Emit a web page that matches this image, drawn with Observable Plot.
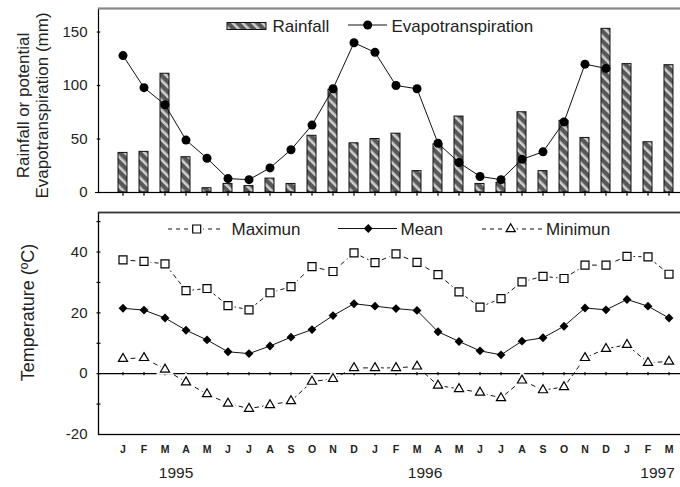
<!DOCTYPE html>
<html><head><meta charset="utf-8">
<script src="https://cdn.jsdelivr.net/npm/d3@7"></script>
<script src="https://cdn.jsdelivr.net/npm/@observablehq/plot@0.6"></script>
<style>
html,body{margin:0;background:#fff;overflow:hidden;}
#chart{position:relative;width:680px;height:487px;overflow:hidden;font-family:"Liberation Sans",Arial,sans-serif;}
#chart svg{position:absolute;left:0;overflow:visible;}
</style></head><body><div id="chart"></div>
<script>
// ---- data ----
const monthLetters = ["J","F","M","A","M","J","J","A","S","O","N","D",
                      "J","F","M","A","M","J","J","A","S","O","N","D",
                      "J","F","M"];
const rainfall = [37,38,111,33,4,8,6,13,8,53,96,46,
                  50,55,20,45,71,8,9,75,20,67,51,153,
                  120,47,119];
const evapo = [128,98,82,49,32,13,12,23,40,63,97,140,
               131,100,97,46,28,15,12,31,38,66,120,116,
               null,null,null];
const tMax = [37.4,36.9,36.1,27.3,28,22.4,21,26.6,28.6,35.2,33.6,39.7,
              36.5,39.4,36.6,32.6,26.9,21.9,24.7,30.2,32,31.3,35.7,35.7,
              38.6,38.4,32.7];
const tMean = [21.5,20.9,18.3,14.3,11.1,7.2,6.6,9.1,12,14.5,19.1,23,
               22.2,21.4,20.8,13.8,10.6,7.5,6.2,10.7,11.8,15.6,21.6,21,
               24.4,22.2,18.3];
const tMin = [4.9,5.2,1.4,-2.8,-6.7,-9.8,-11.5,-10.3,-9,-2.6,-1.7,1.9,
              1.9,1.9,2.4,-3.9,-5,-6.2,-8,-2.2,-5.4,-4.4,5.2,8.2,
              9.5,3.6,4];
const rainTicks = [0,50,100,150];
const tempLabelTicks = [-20,0,20,40];
const tempTicks = [-10,0,10,20,30,40,50];
const yearLabels = ["1995","1996","1997"];
const yearMonthIndex = [2,14,25];
const yearOffset = [11,8,9.5];
const rainTitle = "Rainfall or potential\nEvapotranspiration (mm)";
const tempTitle = "Temperature (ºC)";

const data = monthLetters.map((m,i)=>({i, m, rain: rainfall[i], et: evapo[i], tmax: tMax[i], tmean: tMean[i], tmin: tMin[i]}));

// ---- helpers ----
const vbar = {draw(ctx,size){const r=Math.sqrt(size/Math.PI);ctx.moveTo(0,-r);ctx.lineTo(0,r);}};
const hbar = {draw(ctx,size){const r=Math.sqrt(size/Math.PI);ctx.moveTo(-r,0);ctx.lineTo(r,0);}};
const font = "Liberation Sans, Arial, Helvetica, sans-serif";
const xOpts = {type:"band", domain:d3.range(monthLetters.length), paddingInner:0.56, paddingOuter:0.53, align:0.76};
const style = {fontFamily:font, fontSize:"15px", color:"#111", background:"none", overflow:"visible"};
const fmt = d => String(d);
const chart = document.getElementById("chart");

// defs (pattern)
const overlay = d3.select(chart).append("svg").attr("width",680).attr("height",487).style("top","0px").style("pointer-events","none").style("z-index",2);
const pat = overlay.append("defs").append("pattern").attr("id","stripes").attr("patternUnits","userSpaceOnUse")
  .attr("width",7).attr("height",7).attr("patternTransform","rotate(-45)");
pat.append("rect").attr("width",7).attr("height",7).attr("fill","#585858");
pat.append("rect").attr("width",2.6).attr("height",7).attr("fill","#cfcfcf");

// ---- top panel ----
const topPlot = Plot.plot({
  width:680, height:200, marginTop:8, marginBottom:8, marginLeft:98, marginRight:0,
  style,
  x:{...xOpts, axis:null},
  y:{domain:[0,172]},
  marks:[
    Plot.barY(data,{x:"i", y:"rain", fill:"url(#stripes)", stroke:"#111", strokeWidth:1}),
    Plot.frame({stroke:"#000", strokeWidth:1.2, insetRight:-2}),
    Plot.ruleY([172],{stroke:"#888", strokeWidth:1.8}),
    Plot.ruleY([0],{stroke:"#000", strokeWidth:1.2, insetLeft:-3}),
    Plot.axisY({ticks:rainTicks, tickSize:0, tickPadding:11, tickFormat:fmt, label:null, fontSize:15, fill:"#222"}),
    Plot.dot(rainTicks,{y:d=>d, frameAnchor:"left", symbol:hbar, r:1.7, stroke:"#000", strokeWidth:1.2}),
    Plot.dot(data,{x:"i", y:()=>0, symbol:vbar, r:2.3, dy:1, stroke:"#000", strokeWidth:1.2}),
    Plot.line(data,{x:"i", y:"et", stroke:"#111", strokeWidth:1}),
    Plot.dot(data,{x:"i", y:"et", fill:"#000", r:4.5}),
    Plot.text([rainTitle],{text:d=>d, frameAnchor:"left", textAnchor:"middle", lineAnchor:"middle", rotate:-90, dx:-66.5, dy:5, fontSize:17, lineHeight:1.12, fill:"#222"})
  ]
});
topPlot.style.top = "0px";
chart.appendChild(topPlot);

// ---- bottom panel ----
const bottomPlot = Plot.plot({
  width:680, height:287, marginTop:12, marginBottom:53, marginLeft:98, marginRight:0,
  style,
  x:{...xOpts},
  y:{domain:[-20,53]},
  marks:[
    Plot.frame({stroke:"#000", strokeWidth:1.3, insetRight:-2}),
    Plot.ruleY([53],{stroke:"#333", strokeWidth:1.6}),
    Plot.ruleY([0],{stroke:"#000", strokeWidth:1.2}),
    Plot.axisY({ticks:tempLabelTicks, tickSize:0, tickPadding:11, tickFormat:fmt, label:null, fontSize:15, fill:"#222"}),
    Plot.dot(tempTicks,{y:d=>d, frameAnchor:"left", symbol:hbar, r:2, stroke:"#000", strokeWidth:1.2}),
    Plot.dot(data,{x:"i", y:()=>0, symbol:vbar, r:1.6, stroke:"#000", strokeWidth:1.2}),
    Plot.axisX({tickSize:0, tickPadding:11, tickFormat:i=>monthLetters[i], fontWeight:"bold", fontSize:10.5, label:null, fill:"#222"}),
    Plot.line(data,{x:"i", y:"tmax", stroke:"#111", strokeWidth:1, strokeDasharray:"4,4"}),
    Plot.line(data,{x:"i", y:"tmin", stroke:"#111", strokeWidth:1, strokeDasharray:"4,4"}),
    Plot.line(data,{x:"i", y:"tmean", stroke:"#111", strokeWidth:1}),
    Plot.dot(data,{x:"i", y:"tmax", symbol:"square", r:4.5, fill:"#fff", stroke:"#fff", strokeWidth:5}),
    Plot.dot(data,{x:"i", y:"tmax", symbol:"square", r:4.5, fill:"#fff", stroke:"#000", strokeWidth:1.2}),
    Plot.dot(data,{x:"i", y:"tmin", symbol:"triangle", r:3.4, fill:"#fff", stroke:"#fff", strokeWidth:5}),
    Plot.dot(data,{x:"i", y:"tmin", symbol:"triangle", r:3.4, fill:"#fff", stroke:"#000", strokeWidth:1.2}),
    Plot.dot(data,{x:"i", y:"tmean", symbol:"diamond2", r:4, fill:"#000"}),
    ...yearLabels.map((t,k)=>Plot.text([t],{text:d=>d, x:()=>yearMonthIndex[k], frameAnchor:"bottom", dx:yearOffset[k], dy:43, fontSize:15.5, fill:"#222"})),
    Plot.text([tempTitle],{text:d=>d, frameAnchor:"left", textAnchor:"middle", lineAnchor:"middle", rotate:-90, dx:-70.5, dy:-11, fontSize:18, fill:"#222"})
  ]
});
bottomPlot.style.top = "200px";
chart.appendChild(bottomPlot);
chart.appendChild(overlay.node());

// ---- legends (overlay, page coordinates) ----
const lg = overlay.append("g").attr("font-family",font).attr("font-size",17).attr("fill","#222");
// top legend
lg.append("rect").attr("x",227).attr("y",22.5).attr("width",39).attr("height",7).attr("fill","url(#stripes)").attr("stroke","#111");
lg.append("text").attr("x",272.5).attr("y",26).attr("dominant-baseline","central").text("Rainfall");
lg.append("line").attr("x1",348).attr("x2",387).attr("y1",25).attr("y2",25).attr("stroke","#111");
lg.append("circle").attr("cx",367.7).attr("cy",25).attr("r",4.5).attr("fill","#000");
lg.append("text").attr("x",391.5).attr("y",26).attr("dominant-baseline","central").text("Evapotranspiration");
// bottom legend
const sym = (type, r) => d3.symbol(type, Math.PI*r*r)();
lg.append("line").attr("x1",168).attr("x2",222).attr("y1",229).attr("y2",229).attr("stroke","#111").attr("stroke-dasharray","4,4");
lg.append("path").attr("d",sym(d3.symbolSquare,4.5)).attr("transform","translate(196.7,229)").attr("fill","#fff").attr("stroke","#fff").attr("stroke-width",5);
lg.append("path").attr("d",sym(d3.symbolSquare,4.5)).attr("transform","translate(196.7,229)").attr("fill","#fff").attr("stroke","#000").attr("stroke-width",1.2);
lg.append("text").attr("x",231.5).attr("y",229).attr("dominant-baseline","central").text("Maximun");
lg.append("line").attr("x1",338).attr("x2",397).attr("y1",228.5).attr("y2",228.5).attr("stroke","#111");
lg.append("path").attr("d",sym(d3.symbolDiamond2,4)).attr("transform","translate(368.3,228.5)").attr("fill","#000");
lg.append("text").attr("x",400.5).attr("y",229).attr("dominant-baseline","central").text("Mean");
lg.append("line").attr("x1",482).attr("x2",542).attr("y1",229).attr("y2",229).attr("stroke","#111").attr("stroke-dasharray","4,4");
lg.append("path").attr("d",sym(d3.symbolTriangle,3.4)).attr("transform","translate(510.7,229)").attr("fill","#fff").attr("stroke","#fff").attr("stroke-width",5);
lg.append("path").attr("d",sym(d3.symbolTriangle,3.4)).attr("transform","translate(510.7,229)").attr("fill","#fff").attr("stroke","#000").attr("stroke-width",1.2);
lg.append("text").attr("x",546).attr("y",229).attr("dominant-baseline","central").text("Minimun");
</script>
</body></html>
